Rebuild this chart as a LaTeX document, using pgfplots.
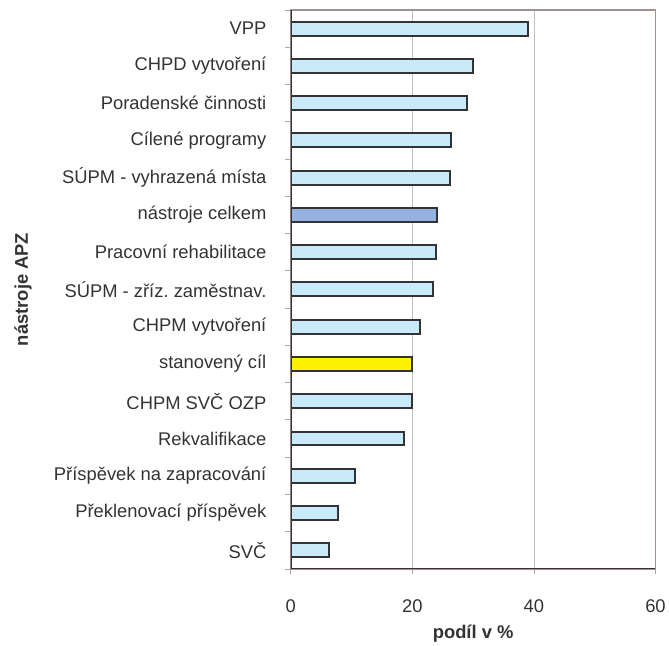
\documentclass[border=0pt]{standalone}
\usepackage{pgfplots}
\pgfplotsset{compat=1.18}
\usepackage{fontspec}
\setmainfont{Liberation Sans}
\frenchspacing
\definecolor{barblue}{HTML}{C8EAF9}
\definecolor{bardark}{HTML}{95B3DE}
\definecolor{baryellow}{HTML}{FFF200}
\definecolor{barline}{HTML}{333333}
\definecolor{framecol}{HTML}{A09090}
\definecolor{axiscol}{HTML}{3A3232}
\definecolor{txt}{HTML}{333333}
\begin{document}
\begin{tikzpicture}
\begin{axis}[
  at={(0,0)}, anchor=south west,
  scale only axis, width=365.8bp, height=560.7bp,
  xmin=0, xmax=60, ymin=-0.5, ymax=14.5,
  xbar, bar width=14bp, bar shift=0pt,
  xtick={0,20,40,60},
  ytick={-0.5,0.5,...,14.5},
  y tick label as interval,
  yticklabels={SVČ, Překlenovací příspěvek, Příspěvek na zapracování, Rekvalifikace, CHPM SVČ OZP, stanovený cíl, CHPM vytvoření, SÚPM - zříz.\ zaměstnav., Pracovní rehabilitace, nástroje celkem, SÚPM - vyhrazená místa, Cílené programy, Poradenské činnosti, CHPD vytvoření, VPP},
  major tick length=5.5bp,
  tick align=outside,
  xtick pos=bottom, ytick pos=left,
  tick style={color=gray!70, line width=0.8bp},
  xmajorgrids=true,
  grid style={color=gray!50, line width=0.8bp},
  axis line style={color=framecol, line width=1.6bp},
  tick label style={font=\fontsize{18.5}{21}\selectfont, text=txt},
  yticklabel style={xshift=-15.5bp},
  xticklabel style={yshift=-21.5bp},
  /pgf/number format/assume math mode=true,
  xlabel={\bfseries podíl v \%},
  ylabel={\bfseries nástroje APZ},
  label style={font=\fontsize{18.5}{21}\selectfont, text=txt},
  xlabel style={at={(axis description cs:0.5,-0.115)}, anchor=center},
  ylabel style={at={(axis description cs:-0.7345,0.5)}, anchor=center},
]
\addplot[fill=barblue, draw=barline, line width=2bp] coordinates {
(6.25,0) (7.7,1) (10.5,2) (18.6,3) (20.0,4) (21.3,6) (23.4,7) (23.9,8) (26.15,10) (26.4,11) (29.05,12) (30.0,13) (39.0,14)};
\addplot[fill=bardark, draw=barline, line width=2bp] coordinates {(24.0,9)};
\addplot[fill=baryellow, draw=barline, line width=2bp] coordinates {(20.0,5)};
\draw[color=axiscol, line width=1.6bp] (rel axis cs:0,1) -- (rel axis cs:0,0) -- (rel axis cs:1,0);
\end{axis}
\path[use as bounding box] (-291.7bp,-75.3bp) rectangle (377.3bp,570.7bp);
\end{tikzpicture}
\end{document}
